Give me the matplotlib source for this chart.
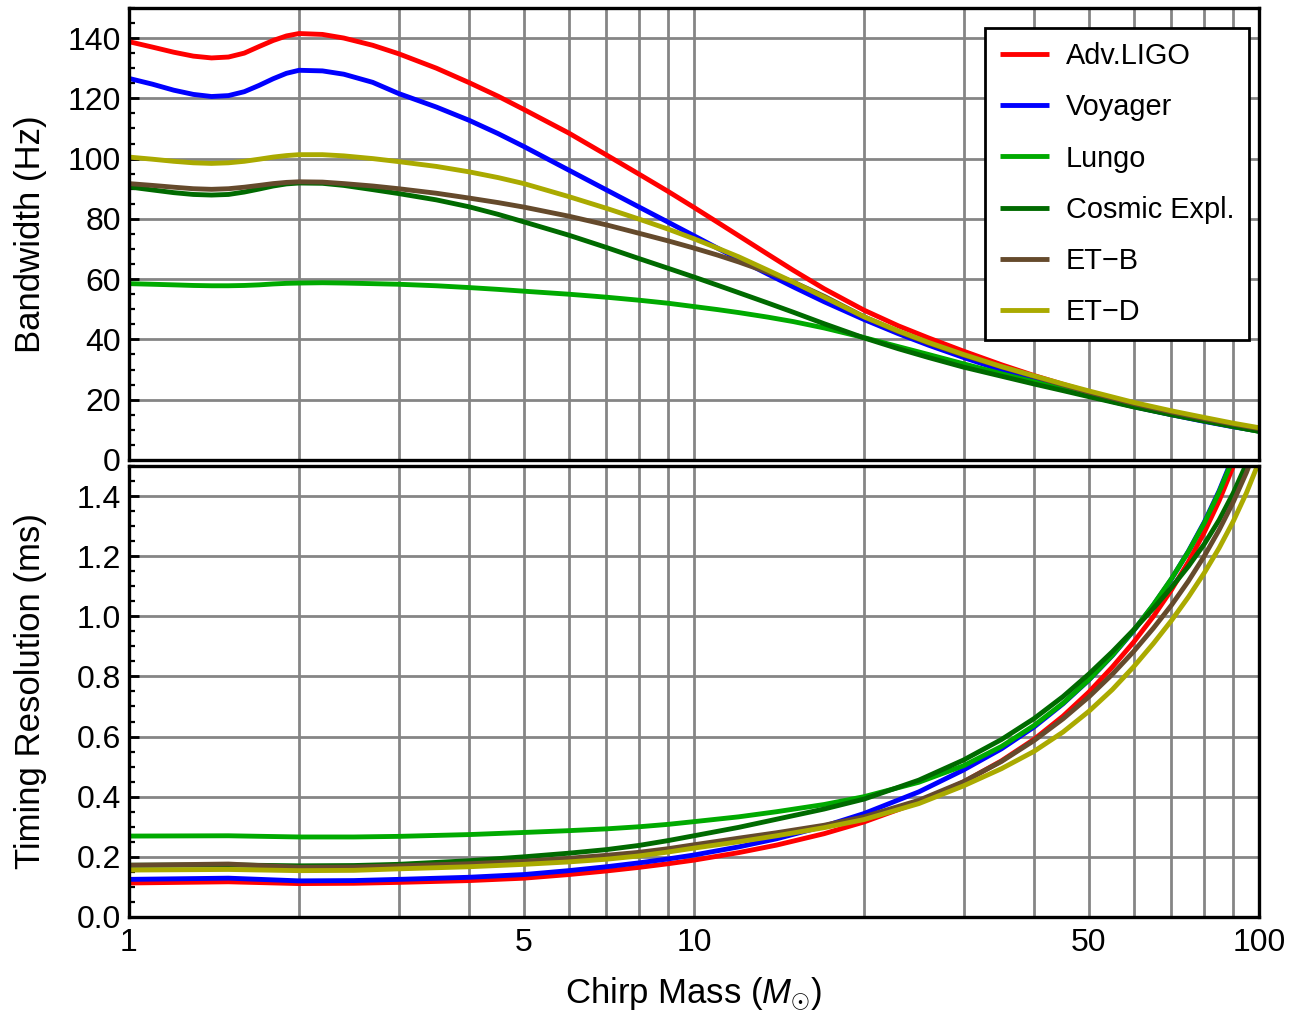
import matplotlib
matplotlib.use("Agg")
import matplotlib.pyplot as plt
from matplotlib.ticker import MultipleLocator, FixedLocator, NullFormatter

plt.rcParams["font.family"] = ["Liberation Sans", "DejaVu Sans"]
plt.rcParams["mathtext.fontset"] = "custom"
plt.rcParams["mathtext.rm"] = "Liberation Sans"
plt.rcParams["mathtext.it"] = "Liberation Sans:italic"

# detectors, in legend order
DETECTORS = ["Adv.LIGO", "Voyager", "Lungo", "Cosmic Expl.", "ET\u2212B", "ET\u2212D"]
COLORS = ["#ff0000", "#0000ff", "#00aa00", "#006a00", "#654a2c", "#aaaa00"]

# top panel: bandwidth (Hz) vs chirp mass
M_TOP = [1, 1.1, 1.2, 1.3, 1.4, 1.5, 1.6, 1.7, 1.8, 1.9, 2, 2.2, 2.4, 2.7, 3,
         3.5, 4, 4.5, 5, 6, 7, 8, 9, 10, 11, 12, 13.5, 15, 17, 20, 23, 26, 30,
         35, 40, 45, 50, 60, 70, 80, 90, 100]
BW_LIGO = [138.8, 137.0, 135.3, 134.0, 133.4, 133.7, 135.0, 137.2, 139.2, 140.7,
           141.5, 141.2, 140.0, 137.6, 134.8, 130.0, 125.2, 120.7, 116.3, 108.5,
           101.2, 94.8, 89.1, 83.8, 78.9, 74.4, 68.3, 62.9, 56.8, 49.7, 44.5,
           40.5, 36.1, 31.6, 28.0, 25.1, 22.6, 18.7, 15.8, 13.6, 11.8, 10.2]
BW_VOYAGER = [126.6, 124.7, 122.7, 121.3, 120.6, 120.9, 122.2, 124.3, 126.5,
              128.3, 129.3, 129.1, 128.0, 125.3, 121.6, 117.1, 112.7, 108.3,
              104.0, 96.2, 89.6, 83.9, 78.9, 74.4, 70.3, 66.6, 61.7, 57.4, 52.5,
              46.6, 41.9, 38.1, 34.0, 29.8, 26.4, 23.6, 21.3, 17.7, 15.0, 12.8,
              11.0, 9.6]
BW_LUNGO = [58.5, 58.3, 58.1, 57.9, 57.8, 57.8, 57.9, 58.1, 58.4, 58.6, 58.7,
            58.8, 58.7, 58.5, 58.3, 57.8, 57.2, 56.6, 56.0, 55.0, 54.0, 53.0,
            52.0, 50.9, 49.9, 48.9, 47.4, 45.9, 43.8, 40.6, 37.6, 35.0, 31.9,
            28.6, 25.9, 23.5, 21.3, 17.8, 15.1, 13.0, 11.1, 9.5]
BW_CE = [90.6, 89.6, 88.7, 88.1, 87.9, 88.1, 88.9, 89.9, 90.9, 91.6, 91.9, 91.8,
         91.1, 89.7, 88.4, 86.3, 84.0, 81.5, 79.0, 74.6, 70.5, 66.8, 63.6, 60.7,
         58.0, 55.5, 52.1, 49.0, 45.2, 40.5, 36.9, 34.0, 30.8, 27.8, 25.2, 23.0,
         21.0, 17.6, 15.0, 12.9, 11.1, 9.5]
BW_ETB = [91.7, 91.1, 90.5, 90.0, 89.8, 90.0, 90.5, 91.1, 91.7, 92.1, 92.3, 92.2,
          91.7, 90.9, 90.0, 88.5, 86.9, 85.4, 83.9, 80.9, 78.0, 75.2, 72.7, 70.3,
          68.0, 65.7, 62.3, 59.0, 54.3, 47.5, 42.6, 38.8, 34.8, 30.9, 27.7, 24.9,
          22.5, 18.7, 15.9, 13.7, 11.9, 10.4]
BW_ETD = [100.5, 99.8, 99.1, 98.6, 98.4, 98.6, 99.1, 99.8, 100.5, 101.0, 101.3,
          101.3, 100.9, 100.0, 99.0, 97.4, 95.6, 93.7, 91.7, 87.4, 83.5, 79.9,
          76.6, 73.4, 70.3, 67.4, 63.0, 59.0, 54.0, 47.5, 42.8, 39.0, 35.0, 31.0,
          27.9, 25.2, 22.9, 19.1, 16.3, 14.1, 12.2, 10.7]

# bottom panel: timing resolution (ms) vs chirp mass
M_BOT = [1, 1.5, 2, 2.5, 3, 4, 5, 6, 7, 8, 9, 10, 12, 14, 17, 20, 25, 30, 35,
         40, 45, 50, 55, 60, 65, 70, 75, 80, 85, 90, 95, 100]
TR_LIGO = [0.113, 0.117, 0.111, 0.112, 0.115, 0.121, 0.129, 0.141, 0.153, 0.165,
           0.177, 0.189, 0.214, 0.239, 0.277, 0.316, 0.382, 0.449, 0.519, 0.591,
           0.668, 0.748, 0.831, 0.914, 0.999, 1.088, 1.181, 1.279, 1.384, 1.498,
           1.623, 1.759]
TR_VOYAGER = [0.125, 0.129, 0.120, 0.121, 0.125, 0.132, 0.141, 0.154, 0.167,
              0.180, 0.193, 0.206, 0.233, 0.260, 0.302, 0.344, 0.416, 0.489,
              0.559, 0.632, 0.709, 0.788, 0.869, 0.952, 1.037, 1.124, 1.216,
              1.313, 1.417, 1.531, 1.658, 1.796]
TR_LUNGO = [0.269, 0.270, 0.266, 0.266, 0.268, 0.274, 0.281, 0.287, 0.293, 0.300,
            0.308, 0.317, 0.333, 0.350, 0.374, 0.400, 0.448, 0.503, 0.567, 0.637,
            0.711, 0.789, 0.870, 0.953, 1.038, 1.125, 1.215, 1.310, 1.413, 1.525,
            1.647, 1.781]
TR_CE = [0.172, 0.173, 0.170, 0.171, 0.175, 0.187, 0.200, 0.212, 0.224, 0.238,
         0.254, 0.270, 0.298, 0.325, 0.359, 0.392, 0.455, 0.522, 0.590, 0.660,
         0.733, 0.808, 0.882, 0.955, 1.026, 1.096, 1.166, 1.240, 1.320, 1.409,
         1.507, 1.616]
TR_ETB = [0.172, 0.176, 0.165, 0.166, 0.170, 0.177, 0.185, 0.195, 0.205, 0.215,
          0.227, 0.240, 0.262, 0.280, 0.305, 0.333, 0.388, 0.450, 0.517, 0.587,
          0.659, 0.732, 0.807, 0.883, 0.960, 1.037, 1.117, 1.200, 1.287, 1.379,
          1.478, 1.585]
TR_ETD = [0.156, 0.158, 0.154, 0.155, 0.160, 0.167, 0.175, 0.183, 0.192, 0.203,
          0.216, 0.229, 0.250, 0.270, 0.297, 0.324, 0.377, 0.436, 0.493, 0.551,
          0.615, 0.684, 0.756, 0.832, 0.909, 0.986, 1.064, 1.144, 1.227, 1.315,
          1.410, 1.514]

BANDWIDTH = [BW_LIGO, BW_VOYAGER, BW_LUNGO, BW_CE, BW_ETB, BW_ETD]
TIMING = [TR_LIGO, TR_VOYAGER, TR_LUNGO, TR_CE, TR_ETB, TR_ETD]

X_MAJOR = [1, 5, 10, 50, 100]
X_GRID = [2, 3, 4, 6, 7, 8, 9, 20, 30, 40, 60, 70, 80, 90]

GRID_KW = dict(color="#858585", linewidth=2.0)
LW = 3.5
FS = 23      # tick labels
FS_LAB = 25  # axis labels

fig = plt.figure(figsize=(12.91, 10.14), dpi=100)
ax1 = fig.add_axes([0.0999, 0.5464, 0.8753, 0.4458])
ax2 = fig.add_axes([0.0999, 0.0957, 0.8753, 0.4448])

for name, col, bw, tr in zip(DETECTORS, COLORS, BANDWIDTH, TIMING):
    ax1.plot(M_TOP, bw, color=col, lw=LW, label=name,
             solid_joinstyle="round", solid_capstyle="butt")
    ax2.plot(M_BOT, tr, color=col, lw=LW,
             solid_joinstyle="round", solid_capstyle="butt")

for ax in (ax1, ax2):
    ax.set_xscale("log")
    ax.set_xlim(1, 100)
    ax.xaxis.set_major_locator(FixedLocator(X_MAJOR))
    ax.xaxis.set_minor_locator(FixedLocator(X_GRID))
    ax.xaxis.set_minor_formatter(NullFormatter())
    ax.set_axisbelow(True)
    ax.grid(True, which="both", axis="x", **GRID_KW)
    ax.grid(True, which="major", axis="y", **GRID_KW)
    for s in ax.spines.values():
        s.set_linewidth(2.4)
        s.set_color("black")
        s.set_zorder(3)
    ax.tick_params(axis="y", which="major", direction="in", length=7, width=2,
                   labelsize=FS, pad=6, right=False)
    ax.tick_params(axis="y", which="minor", direction="in", length=4, width=1.6,
                   right=False)
    ax.tick_params(axis="x", which="both", length=0, top=False)

ax1.set_ylim(0, 150)
ax1.set_yticks([0, 20, 40, 60, 80, 100, 120, 140])
ax1.yaxis.set_minor_locator(MultipleLocator(5))
ax1.tick_params(axis="x", labelbottom=False)
ax1.set_ylabel("Bandwidth (Hz)", fontsize=FS_LAB)

ax2.set_ylim(0, 1.5)
ax2.set_yticks([0.0, 0.2, 0.4, 0.6, 0.8, 1.0, 1.2, 1.4])
ax2.set_yticklabels([f"{v:.1f}" for v in [0.0, 0.2, 0.4, 0.6, 0.8, 1.0, 1.2, 1.4]])
ax2.yaxis.set_minor_locator(MultipleLocator(0.05))
ax2.set_xticks(X_MAJOR)
ax2.set_xticklabels([str(v) for v in X_MAJOR])
ax2.tick_params(axis="x", which="major", labelsize=FS, pad=8)
ax2.set_ylabel("Timing Resolution (ms)", fontsize=FS_LAB)
ax2.set_xlabel(r"Chirp Mass ($M_{\odot}$)", fontsize=FS_LAB, labelpad=13)

# both y labels sit on the same vertical line, as in the original
for ax in (ax1, ax2):
    ax.yaxis.set_label_coords(-0.087, 0.5)
    ax.yaxis.label.set_va("center")

leg = ax1.legend(loc="upper right", bbox_to_anchor=(0.9912, 0.9558),
                 borderaxespad=0, fontsize=20.8, frameon=True, fancybox=False,
                 edgecolor="black", framealpha=1, handlelength=1.7,
                 handletextpad=0.6, labelspacing=0.80, borderpad=0.5)
leg.get_frame().set_linewidth(2.0)

fig.savefig("out.png", dpi=100)
